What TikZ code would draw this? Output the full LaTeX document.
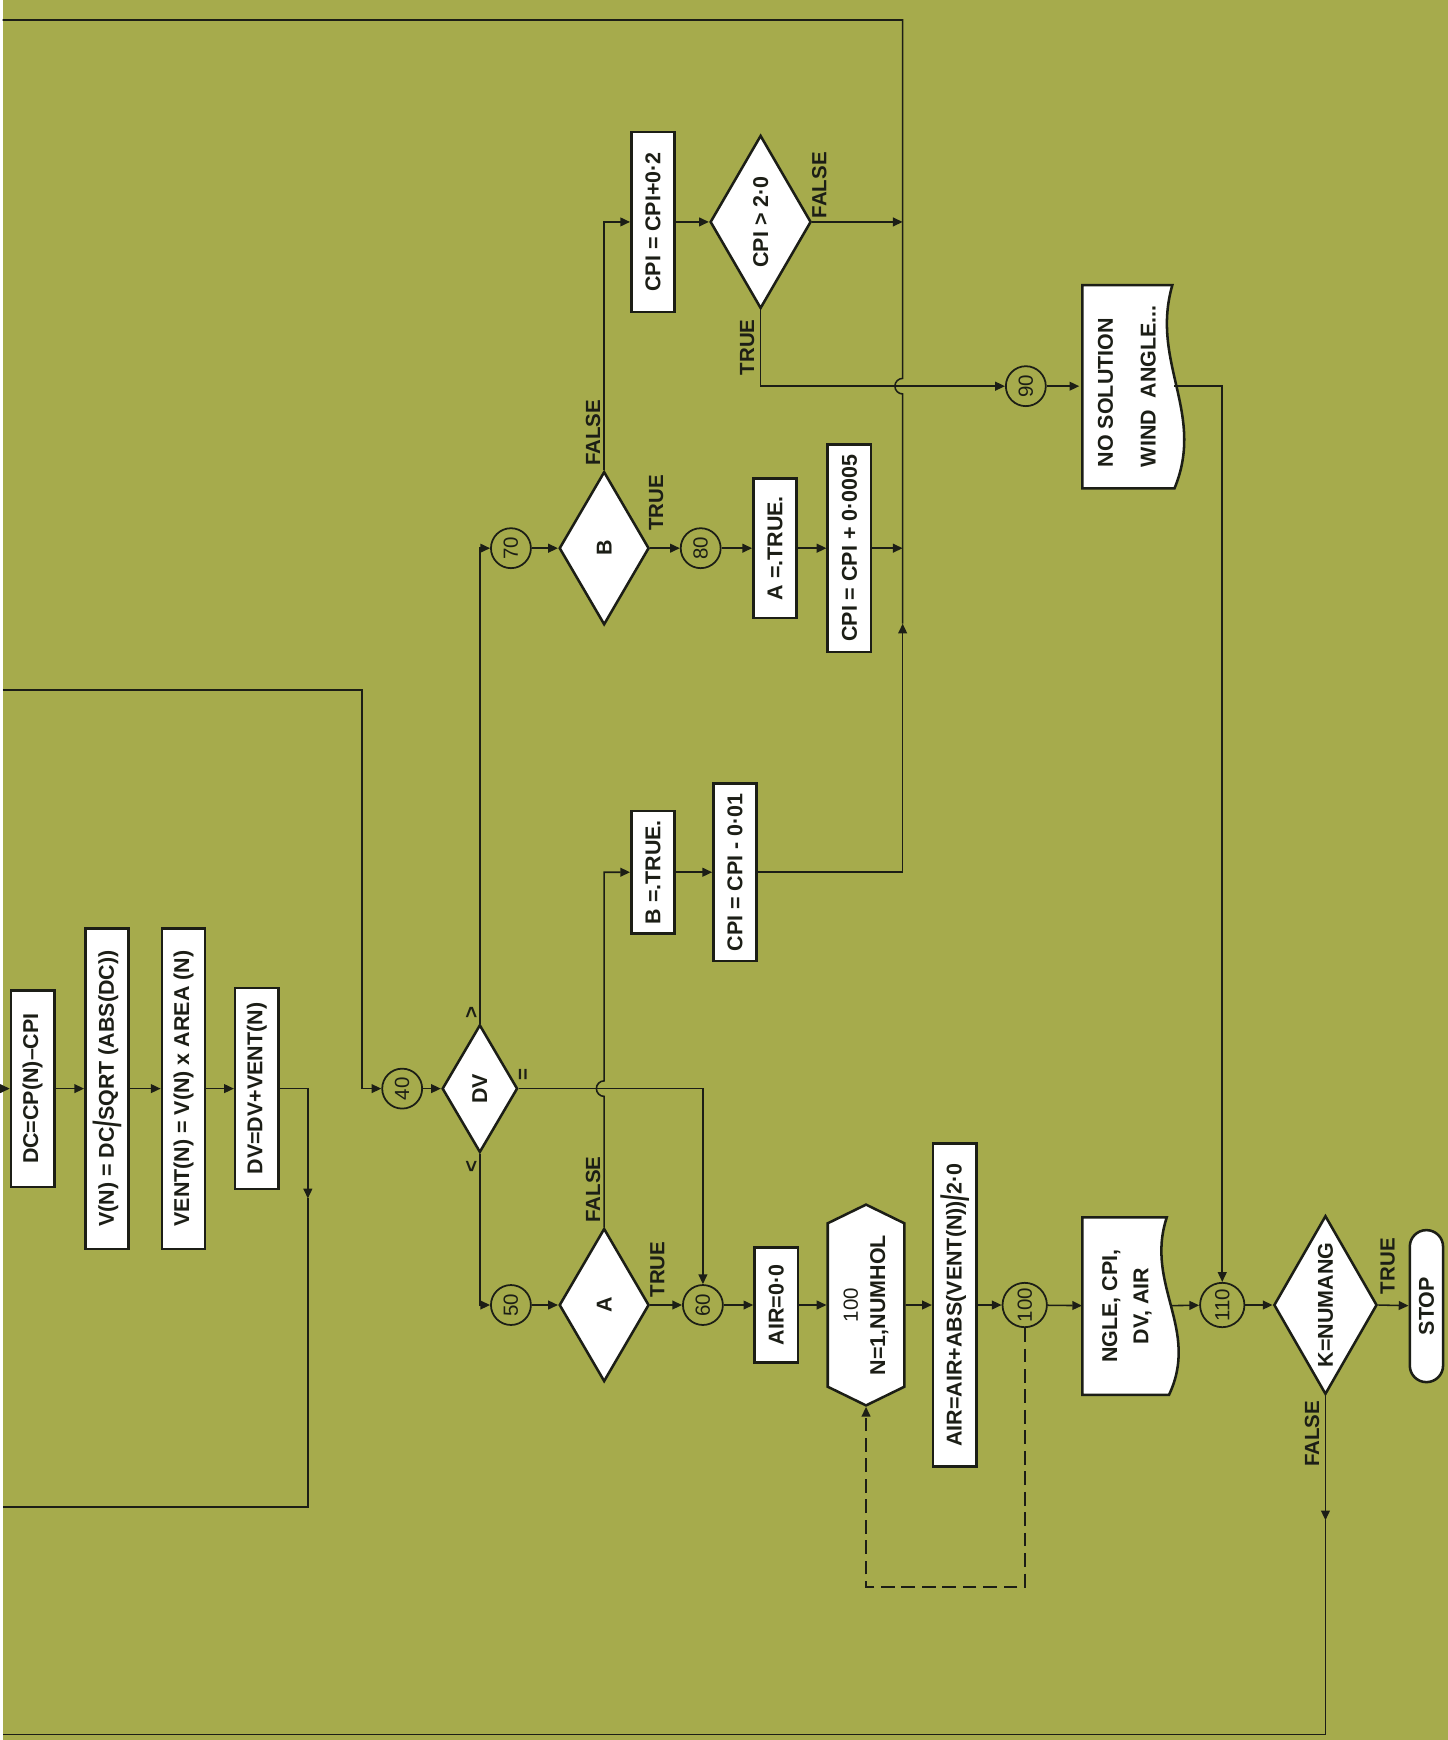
\documentclass[tikz,border=0pt]{standalone}
\usepackage{fontspec}
\setmainfont{Liberation Sans}
\usepackage{graphicx}
\usetikzlibrary{arrows.meta, shapes.geometric, shapes.symbols}

\definecolor{bgolive}{RGB}{166,171,76}
\definecolor{ink}{RGB}{28,30,22}

\newcommand{\boxfont}{\fontsize{11}{12}\selectfont\bfseries}
\newcommand{\numfont}{\fontsize{10.5}{12}\selectfont\mdseries}
\newcommand{\lblfont}{\fontsize{10.5}{11}\selectfont\bfseries}
\newcommand{\bigsl}{\raisebox{-0.6ex}{\scalebox{1.1}[1.8]{/}}}
% document symbol: left, top, width, height
\newcommand{\docshape}[4]{%
  \draw[docline] (#1,#2) -- ({#1+#3},#2)
    .. controls ({#1+#3-20},{#2+0.38*#4}) and ({#1+#3+30},{#2+0.63*#4})
    .. ({#1+#3+2},{#2+#4}) -- (#1,{#2+#4}) -- cycle;}

\begin{document}
\begin{tikzpicture}[x=0.02cm, y=-0.02cm,
  box/.style={draw=ink, line width=1.3pt, fill=white, rotate=90, text=ink,
              minimum height=0.78cm, inner sep=2pt, font=\boxfont},
  dec/.style={draw=ink, diamond, line width=1.3pt, fill=white, rotate=90,
              text=ink, inner sep=0pt, shape aspect=1.7, font=\boxfont},
  hexa/.style={draw=ink, signal, signal to=east and west,
               signal pointer angle=128, line width=1.3pt, fill=white,
               rotate=90, text=ink, inner sep=2pt, align=center,
               font=\fontsize{11}{14}\selectfont\bfseries},
  docnode/.style={rotate=90, inner sep=2pt, text=ink, font=\boxfont},
  conn/.style={draw=ink, circle, line width=0.9pt, rotate=90, text=ink,
               minimum size=0.72cm, inner sep=0pt, font=\numfont},
  lbl/.style={rotate=90, inner sep=1pt, font=\lblfont, text=ink},
  arr/.style={-{Triangle[length=5pt,width=4.5pt]}, draw=ink, line width=0.8pt},
  wire/.style={draw=ink, line width=0.8pt},
  docline/.style={draw=ink, line width=1.3pt, fill=white}
]
  \fill[bgolive] (0,0) rectangle (1302,1568);

  % entry row
  \coordinate (in1) at (0,981);
  \node[box, minimum width=3.54cm] (dc)    at (27,981)  {DC=CP(N)–CPI};
  \node[box, minimum width=5.78cm] (vn)    at (94,981)  {V(N) = DC\bigsl SQRT (ABS(DC))};
  \node[box, minimum width=5.78cm] (vent)  at (163,981) {VENT(N) = V(N) x AREA (N)};
  \node[box, minimum width=3.62cm] (dvsum) at (229,981) {DV=DV+VENT(N)};
  \coordinate (lp)   at (275,1080);
  \coordinate (out1) at (0,1358);

  % three way test on DV
  \coordinate (in2) at (0,622);
  \coordinate (k40) at (324,622);
  \node[conn] (c40) at (360,981) {40};
  \node[dec, minimum width=2.3cm, minimum height=1.36cm] (dv) at (430,981) {DV};
  \node[lbl] (rgt) at (423,912)  {>};
  \node[lbl] (rlt) at (423,1051) {<};
  \node[lbl] (req) at (470,968)  {=};

  % DV < 0 : test A, then sum over holes
  \node[conn] (c50) at (458,1176) {50};
  \node[dec, minimum width=2.76cm, minimum height=1.62cm] (a) at (542,1176) {A};
  \node[conn] (c60) at (631,1176) {60};
  \node[box, minimum width=2.08cm] (air0) at (697,1176) {AIR=0·0};
  \node[hexa, minimum width=3.62cm, minimum height=1.38cm] (hex) at (778,1176)
       {{\numfont 100}\\N=1,NUMHOL};
  \node[box, minimum width=5.82cm] (airsum) at (858,1176)
       {AIR=AIR+ABS(VENT(N))\bigsl 2·0};
  \node[conn, minimum size=0.8cm] (c100) at (921,1176) {100};
  \coordinate (dl) at (778,1430);

  % output and angle loop
  \docshape{973}{1097}{76}{160}
  \node[docnode, minimum width=3.2cm, minimum height=1.6cm, align=center,
        font=\fontsize{11}{16}\selectfont\bfseries] (ngle) at (1013,1177)
       {NGLE, CPI,\\DV, AIR};
  \node[conn, minimum size=0.8cm] (c110) at (1099,1176) {110};
  \node[dec, minimum width=3.22cm, minimum height=1.86cm] (k) at (1192,1176) {K=NUMANG};
  \node[box, rounded corners=8.5pt, minimum height=0.6cm, minimum width=2.74cm]
       (stop) at (1283,1177) {STOP};
  \coordinate (kf)   at (1192,1370);
  \coordinate (out3) at (0,1563);

  % DV > 0 : test B
  \node[conn] (c70) at (458,494) {70};
  \node[dec, minimum width=2.76cm, minimum height=1.62cm] (b) at (542,494) {B};
  \node[conn] (c80) at (629,494) {80};
  \node[box, minimum width=2.52cm] (atrue) at (696,494) {A =.TRUE.};
  \node[box, minimum width=3.74cm] (cpia)  at (763,494) {CPI = CPI + 0·0005};
  \node[box, minimum width=3.24cm] (cpib)  at (586,200) {CPI = CPI+0·2};
  \node[dec, minimum width=3.12cm, minimum height=1.82cm] (gt) at (683,200) {CPI > 2·0};
  \node[conn] (c90) at (922,348) {90};
  \docshape{973}{257}{81}{183}
  \node[docnode, minimum width=3.66cm, minimum height=1.7cm, align=left,
        font=\fontsize{11}{22}\selectfont\bfseries] (nsol) at (1013,348)
       {NO SOLUTION\\WIND\ \ ANGLE...};

  % A false
  \node[box, minimum width=2.2cm] (btrue) at (586,786) {B =.TRUE.};
  \node[box, minimum width=3.2cm] (cpic)  at (660,786) {CPI = CPI - 0·01};

  % return line
  \coordinate (j2)   at (811,200);
  \coordinate (j3)   at (811,494);
  \coordinate (j4)   at (811,562);
  \coordinate (hop2) at (811,355);
  \coordinate (tr)   at (811,18);
  \coordinate (out2) at (0,18);
  \coordinate (hop1) at (542,988);

  % branch labels
  \node[lbl] (fa) at (532,1072) {FALSE};
  \node[lbl] (ta) at (590,1144) {TRUE};
  \node[lbl] (fb) at (532,390)  {FALSE};
  \node[lbl] (tb) at (589,453)  {TRUE};
  \node[lbl] (fg) at (736,167)  {FALSE};
  \node[lbl] (tg) at (671,313)  {TRUE};
  \node[lbl] (tk) at (1248,1141) {TRUE};
  \node[lbl] (fk) at (1180,1292) {FALSE};

  \draw[arr] (in1) -- (dc);
  \draw[arr] (dc) -- (vn);
  \draw[arr] (vn) -- (vent);
  \draw[arr] (vent) -- (dvsum);
  \draw[arr] (dvsum) -| (lp);
  \draw[wire] (lp) |- (out1);
  \draw[arr] (in2) -- (k40) |- (c40);
  \draw[arr] (c40) -- (dv);
  \draw[arr] (dv.east) |- (c70);
  \draw[arr] (dv.west) |- (c50);
  \draw[arr] (dv.south) -| (c60);

  \draw[arr] (c50) -- (a);
  \draw[arr] (a.east) -- (hop1) arc[start angle=90, end angle=270, radius=7] |- (btrue);
  \draw[arr] (a.south) -- (c60);
  \draw[arr] (c60) -- (air0);
  \draw[arr] (air0) -- (hex);
  \draw[arr] (hex) -- (airsum);
  \draw[arr] (airsum) -- (c100);
  \draw[arr, dash pattern=on 7pt off 3.5pt] (c100) |- (dl) -- (hex.west);
  \draw[arr] (c100) -- (ngle);
  \draw[arr] (ngle) -- (c110);
  \draw[arr] (c110) -- (k);
  \draw[arr] (k.south) -- (stop);
  \draw[arr] (k.west) -- (kf);
  \draw[wire] (kf) |- (out3);

  \draw[arr] (c70) -- (b);
  \draw[arr] (b.east) |- (cpib);
  \draw[arr] (cpib) -- (gt);
  \draw[arr] (gt.south) -- (j2);
  \draw[arr] (gt.west) |- (c90);
  \draw[arr] (c90) -- (nsol);
  \draw[arr] (nsol) -| (c110);
  \draw[arr] (b.south) -- (c80);
  \draw[arr] (c80) -- (atrue);
  \draw[arr] (atrue) -- (cpia);
  \draw[arr] (cpia) -- (j3);
  \draw[arr] (btrue) -- (cpic);
  \draw[arr] (cpic) -| (j4);
  \draw[wire] (j4) -- (hop2) arc[start angle=90, end angle=270, radius=7] -- (tr) -- (out2);
\end{tikzpicture}
\end{document}
